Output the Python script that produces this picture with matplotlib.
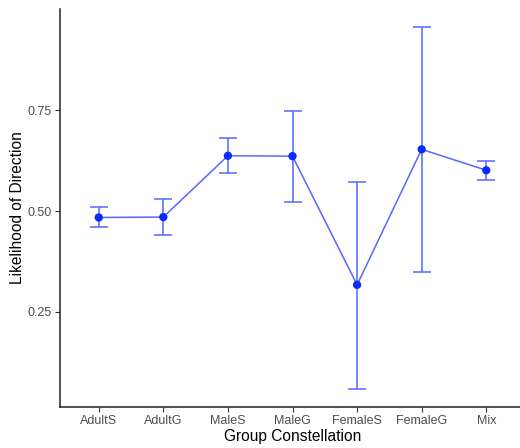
import numpy as np
import matplotlib
matplotlib.use("Agg")
import matplotlib.pyplot as plt

plt.rcParams['font.family'] = ['Liberation Sans', 'DejaVu Sans']

groups = ["AdultS", "AdultG", "MaleS", "MaleG", "FemaleS", "FemaleG", "Mix"]
likelihood = [0.484, 0.485, 0.637, 0.636, 0.317, 0.653, 0.601]
upper = [0.509, 0.530, 0.682, 0.749, 0.573, 0.956, 0.624]
lower = [0.460, 0.441, 0.594, 0.523, 0.059, 0.350, 0.578]

x = np.arange(len(groups))
lk = np.array(likelihood)
yerr = np.vstack([lk - np.array(lower), np.array(upper) - lk])

fig = plt.figure(figsize=(5.2, 4.48), dpi=100)
ax = fig.add_axes([60 / 520, 41 / 448, 465 / 520, 398 / 448])

line_col = "#5468ff"
ax.errorbar(x, lk, yerr=yerr, fmt="none", ecolor=line_col, elinewidth=1.1,
            capsize=6.5, capthick=1.1, zorder=2)
ax.plot(x, lk, color=line_col, lw=1.1, zorder=2)
ax.scatter(x, lk, s=36, color="#0a2aff", zorder=3, edgecolors="none")

ax.set_xlim(-0.6, len(groups) - 0.4)
lo, hi = min(lower), max(upper)
pad = (hi - lo) * 0.05
ax.set_ylim(lo - pad, hi + pad)
ax.set_xticks(x)
ax.set_xticklabels(groups)
ax.set_yticks([0.25, 0.50, 0.75])
ax.set_yticklabels(["0.25", "0.50", "0.75"])

for side in ["top", "right"]:
    ax.spines[side].set_visible(False)
for side in ["left", "bottom"]:
    ax.spines[side].set_color("#222222")
    ax.spines[side].set_linewidth(1.1)
ax.tick_params(axis="both", colors="#333333", length=3.5, width=0.8,
               labelsize=9, labelcolor="#4d4d4d", pad=2.5)

ax.set_xlabel("Group Constellation", fontsize=11.2, color="black", labelpad=1)
ax.set_ylabel("Likelihood of Direction", fontsize=11.2, color="black", labelpad=2)

fig.savefig("out.png", dpi=100)
